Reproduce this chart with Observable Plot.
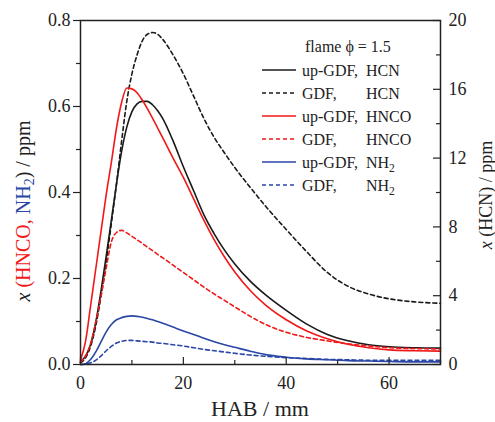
<!DOCTYPE html>
<html>
<head>
<meta charset="utf-8">
<script src="https://cdn.jsdelivr.net/npm/d3@7"></script>
<script src="https://cdn.jsdelivr.net/npm/@observablehq/plot@0.6"></script>
<style>
  html, body { margin: 0; padding: 0; background: #fff; }
  #chart svg { display: block; }
  #chart svg text, #chart svg tspan { font-family: "Liberation Serif", "Times New Roman", Times, "DejaVu Serif", serif !important; }
</style>
</head>
<body>
<div id="chart"></div>
<script>
// HAB (mm)
const hab = [0,1,2,3,4,5,6,7,8,9,10,11,12,13,14,15,16,18,20,22,24,26,28,30,33,36,40,44,48,52,56,60,65,70];
// HCN, ppm (right axis)
const hcnUpGDF = [0.15,0.5,1.2,2.5,4.3,6.3,8.4,10.5,12.4,13.8,14.7,15.15,15.3,15.3,15.1,14.75,14.3,13.0,11.5,10.1,8.7,7.6,6.65,5.85,4.85,4.05,3.15,2.35,1.75,1.38,1.15,1.03,0.97,0.95];
const hcnGDF   = [0.1,0.4,1.1,2.3,4.0,6.0,8.2,10.5,13.0,15.3,16.9,18.0,18.8,19.2,19.3,19.2,18.9,18.0,16.9,15.6,14.3,13.2,12.3,11.45,10.3,9.2,7.85,6.55,5.35,4.55,4.1,3.82,3.64,3.56];
// HNCO, ppm (left axis)
const hncoUpGDF = [0.01,0.055,0.14,0.225,0.31,0.395,0.47,0.55,0.61,0.643,0.641,0.632,0.615,0.595,0.573,0.55,0.527,0.48,0.435,0.385,0.335,0.29,0.25,0.215,0.172,0.138,0.104,0.078,0.06,0.047,0.039,0.034,0.032,0.031];
const hncoGDF   = [0.005,0.02,0.05,0.1,0.16,0.225,0.285,0.307,0.312,0.306,0.298,0.29,0.282,0.273,0.265,0.256,0.248,0.231,0.214,0.197,0.18,0.164,0.149,0.134,0.112,0.093,0.075,0.063,0.055,0.048,0.043,0.039,0.037,0.036];
// NH2, ppm (left axis)
const nh2UpGDF = [0,0.002,0.012,0.03,0.053,0.076,0.093,0.104,0.109,0.112,0.113,0.112,0.11,0.107,0.104,0.1,0.096,0.087,0.078,0.07,0.061,0.053,0.046,0.04,0.031,0.023,0.017,0.013,0.011,0.009,0.008,0.007,0.006,0.006];
const nh2GDF   = [0,0.001,0.004,0.01,0.02,0.032,0.042,0.05,0.054,0.056,0.056,0.055,0.054,0.053,0.052,0.05,0.049,0.046,0.043,0.039,0.035,0.032,0.029,0.026,0.022,0.019,0.016,0.014,0.012,0.011,0.01,0.01,0.01,0.01];

// ticks
const xMajor = [0,20,40,60];
const xMinor = [10,30,50,70];
const yMajor = [0,0.2,0.4,0.6,0.8];
const yMinor = [0.1,0.3,0.5,0.7];
const hcnMajor = [0,4,8,12,16,20];
const hcnMinor = [2,6,10,14,18];
const hcnFactor = 25; // 20 ppm on the right axis <-> 0.8 ppm on the left axis

const BLACK = "#1a1a1a", RED = "#f01818", BLUE = "#2a46a6";
const legendItems = [
  {a: "up-GDF,", b: "HCN", color: BLACK, dash: null},
  {a: "GDF,", b: "HCN", color: BLACK, dash: "4,3"},
  {a: "up-GDF,", b: "HNCO", color: RED, dash: null},
  {a: "GDF,", b: "HNCO", color: RED, dash: "4,3"},
  {a: "up-GDF,", b: "NH", sub: "2", color: BLUE, dash: null},
  {a: "GDF,", b: "NH", sub: "2", color: BLUE, dash: "4,3"}
];

const W = 495, H = 422, mL = 80, mR = 55, mT = 20, mB = 58;
const plotW = W - mL - mR, plotH = H - mT - mB;
const FONT = "Liberation Serif, Times New Roman, DejaVu Serif, serif";

const rows = (ys, k = 1) => hab.map((x, i) => ({x, y: ys[i] / k}));
const lw = 1.6;

const chart = Plot.plot({
  width: W, height: H,
  marginLeft: mL, marginRight: mR, marginTop: mT, marginBottom: mB,
  style: {fontFamily: FONT, fontSize: "18px", color: "#222", background: "#fff"},
  x: {domain: [0, 70]},
  y: {domain: [0, 0.8]},
  marks: [
    // data
    Plot.line(rows(hcnGDF, hcnFactor), {x: "x", y: "y", stroke: BLACK, strokeWidth: lw, strokeDasharray: "4,3", curve: "monotone-x"}),
    Plot.line(rows(hcnUpGDF, hcnFactor), {x: "x", y: "y", stroke: BLACK, strokeWidth: lw, curve: "monotone-x"}),
    Plot.line(rows(hncoGDF), {x: "x", y: "y", stroke: RED, strokeWidth: lw, strokeDasharray: "4,3", curve: "monotone-x"}),
    Plot.line(rows(hncoUpGDF), {x: "x", y: "y", stroke: RED, strokeWidth: lw, curve: "monotone-x"}),
    Plot.line(rows(nh2GDF), {x: "x", y: "y", stroke: BLUE, strokeWidth: lw, strokeDasharray: "4,3", curve: "monotone-x"}),
    Plot.line(rows(nh2UpGDF), {x: "x", y: "y", stroke: BLUE, strokeWidth: lw, curve: "monotone-x"}),
    // bottom axis: inward ticks
    Plot.ruleX(xMajor, {x: d => d, insetTop: plotH - 7, stroke: "#222", strokeWidth: 1.2}),
    Plot.ruleX(xMinor, {x: d => d, insetTop: plotH - 4, stroke: "#222", strokeWidth: 1.2}),
    Plot.axisX(xMajor, {tickSize: 0, tickPadding: 12, label: null, fontSize: 18, fontFamily: FONT}),
    // left axis: outward ticks
    Plot.axisY(yMajor, {tickSize: 7, tickPadding: 3, tickFormat: d3.format(".1f"), label: null, fontSize: 18, fontFamily: FONT, strokeWidth: 1.2}),
    Plot.axisY(yMinor, {tickSize: 4, tickFormat: () => "", label: null, strokeWidth: 1.2}),
    // right axis (HCN): inward ticks
    Plot.ruleY(hcnMajor.map(v => v / hcnFactor), {y: d => d, insetLeft: plotW - 7, stroke: "#222", strokeWidth: 1.2}),
    Plot.ruleY(hcnMinor.map(v => v / hcnFactor), {y: d => d, insetLeft: plotW - 4, stroke: "#222", strokeWidth: 1.2}),
    Plot.axisY(hcnMajor.map(v => v / hcnFactor), {anchor: "right", tickSize: 0, tickPadding: 8, tickFormat: d => String(Math.round(d * hcnFactor)), label: null, fontSize: 18, fontFamily: FONT}),
    Plot.frame({stroke: "#222", strokeWidth: 1.5})
  ]
});

document.getElementById("chart").appendChild(chart);

// Labels and legend
const svg = d3.select(chart);

// x label
svg.append("text")
  .attr("x", mL + plotW / 2).attr("y", 416)
  .attr("text-anchor", "middle").attr("font-family", FONT).attr("font-size", 22).attr("fill", "#222")
  .text("HAB / mm");

// left y label (coloured)
const yl = svg.append("text")
  .attr("transform", "translate(30,211) rotate(-90)")
  .attr("text-anchor", "middle").attr("font-family", FONT).attr("font-size", 20).attr("fill", "#222");
yl.append("tspan").attr("font-style", "italic").text("x");
yl.append("tspan").attr("fill", RED).text(" (HNCO,");
yl.append("tspan").attr("fill", BLUE).text(" NH");
yl.append("tspan").attr("fill", BLUE).attr("font-size", 14).attr("dy", 4).text("2");
yl.append("tspan").attr("dy", -4).text(") / ppm");

// right y label
const yr = svg.append("text")
  .attr("transform", "translate(492,195) rotate(-90)")
  .attr("text-anchor", "middle").attr("font-family", FONT).attr("font-size", 18).attr("fill", "#222");
yr.append("tspan").attr("font-style", "italic").text("x");
yr.append("tspan").text(" (HCN) / ppm");

// legend
const lg = svg.append("g").attr("font-family", FONT).attr("font-size", 16).attr("fill", "#222").attr("text-anchor", "start");
lg.append("text").attr("x", 305).attr("y", 52).text("flame \u03D5 = 1.5");
legendItems.forEach((d, i) => {
  const cy = 70 + i * 23;
  lg.append("line").attr("x1", 262).attr("x2", 296).attr("y1", cy).attr("y2", cy)
    .attr("stroke", d.color).attr("stroke-width", lw).attr("stroke-dasharray", d.dash);
  lg.append("text").attr("x", 302).attr("y", cy + 5.5).text(d.a);
  const t = lg.append("text").attr("x", 366).attr("y", cy + 5.5);
  t.append("tspan").text(d.b);
  if (d.sub) t.append("tspan").attr("font-size", 11.5).attr("dy", 4).text(d.sub);
});
</script>
</body>
</html>
